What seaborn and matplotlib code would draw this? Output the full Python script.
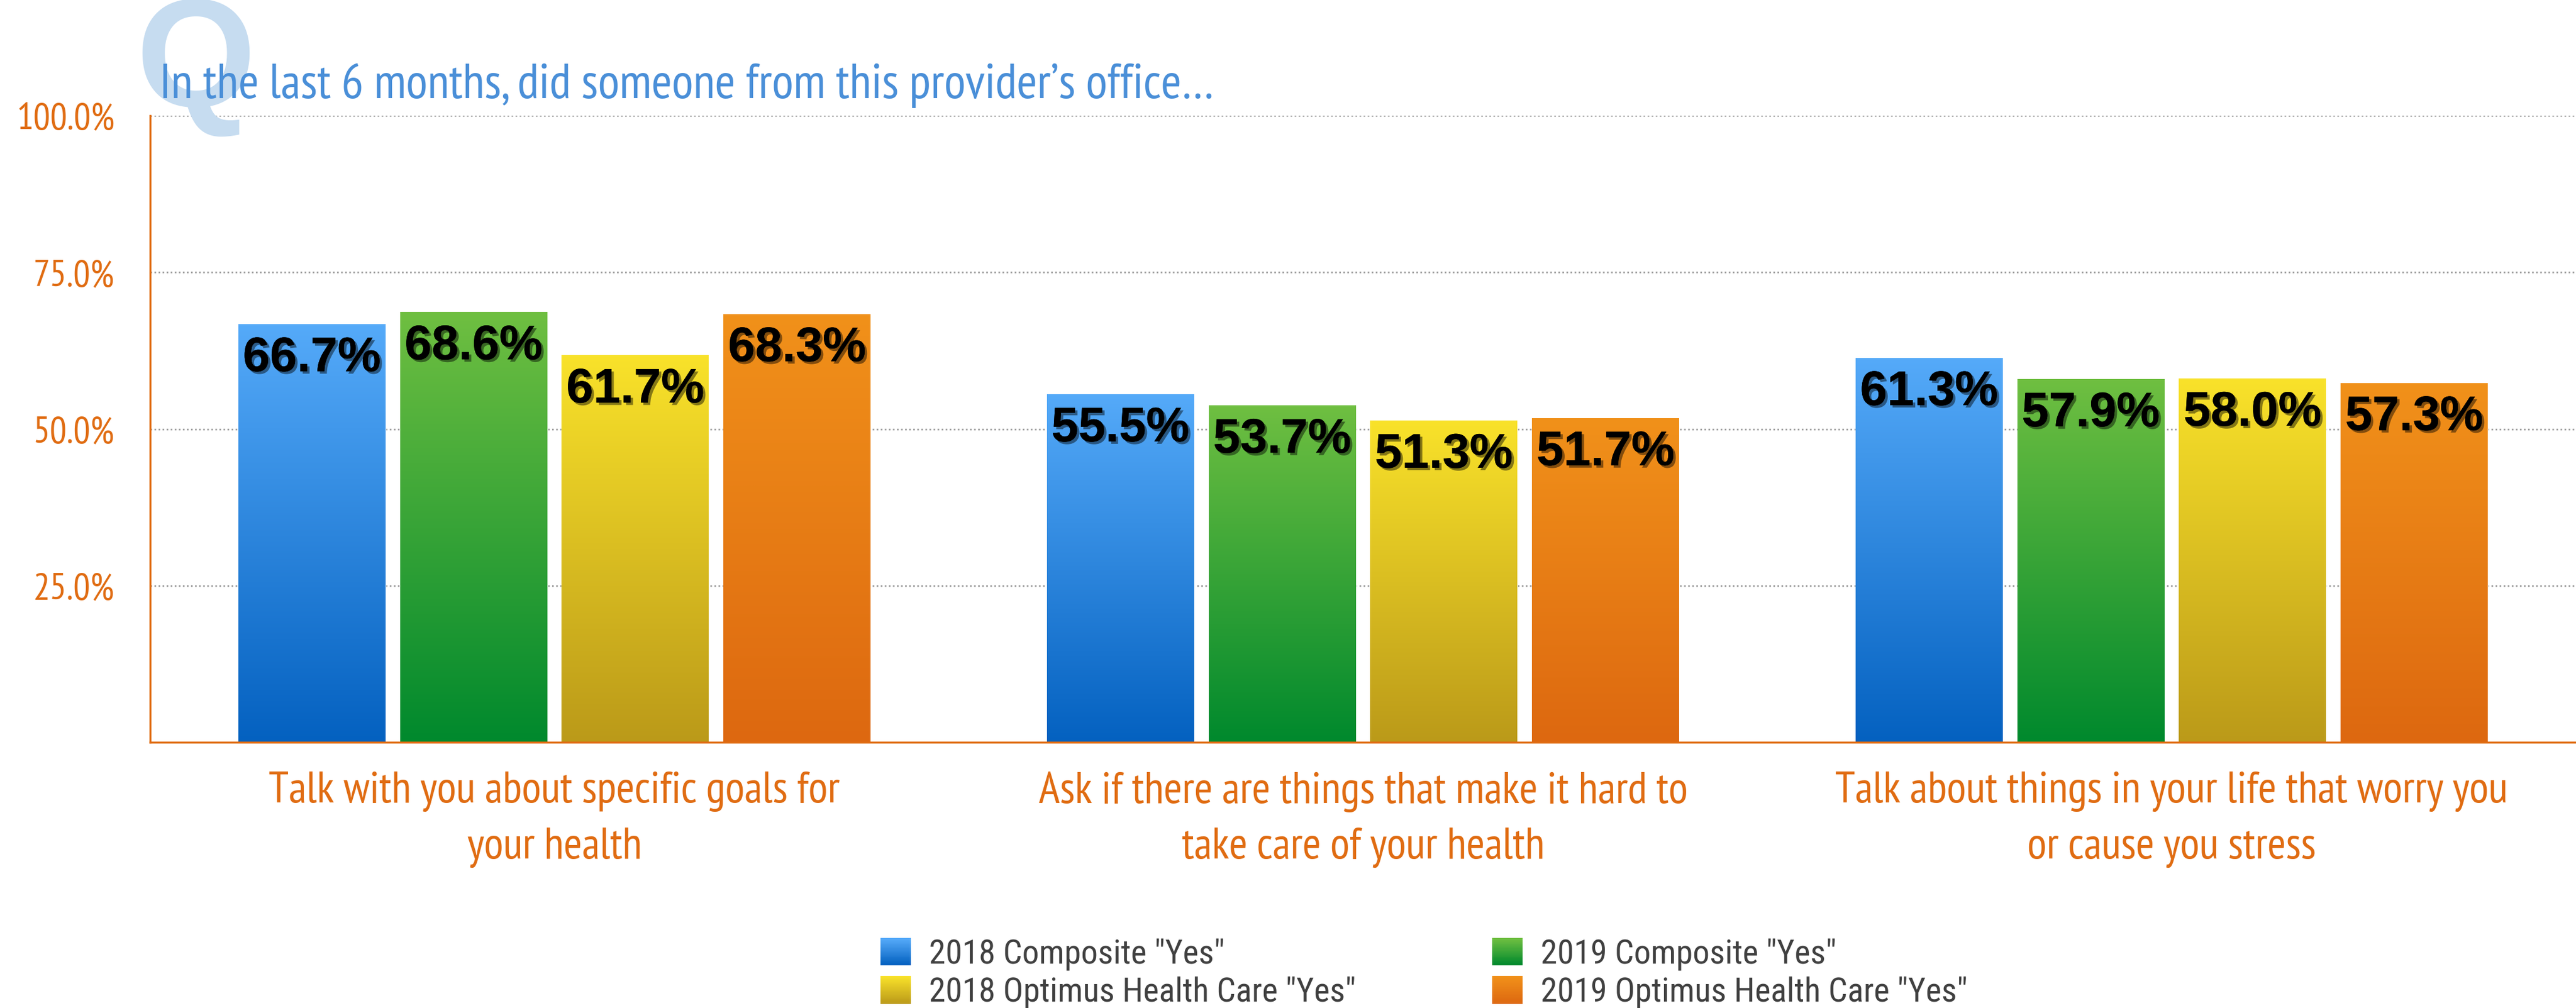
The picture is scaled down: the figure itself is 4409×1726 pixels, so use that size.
import numpy as np
import pandas as pd
import matplotlib
matplotlib.use("Agg")
import matplotlib.pyplot as plt
import matplotlib.patheffects as pe
import seaborn as sns
from matplotlib import font_manager
from matplotlib.colors import LinearSegmentedColormap
from matplotlib.patches import Rectangle
from matplotlib.legend_handler import HandlerBase
from matplotlib.ticker import FuncFormatter

categories = [
    "Talk with you about specific goals for\nyour health",
    "Ask if there are things that make it hard to\ntake care of your health",
    "Talk about things in your life that worry you\nor cause you stress",
]
series = [
    '2018 Composite "Yes"',
    '2019 Composite "Yes"',
    '2018 Optimus Health Care "Yes"',
    '2019 Optimus Health Care "Yes"',
]
composite_2018 = [66.7, 55.5, 61.3]
composite_2019 = [68.6, 53.7, 57.9]
optimus_2018 = [61.7, 51.3, 58.0]
optimus_2019 = [68.3, 51.7, 57.3]
yticks = [25, 50, 75, 100]
title = "In the last 6 months, did someone from this provider\u2019s office\u2026"

top_colors = ["#55aaf9", "#6fbf41", "#f9e22a", "#f1911a"]
bottom_colors = ["#0461c0", "#00892d", "#bb9a19", "#dd6810"]
mid_colors = ["#2d86dc", "#38a437", "#dabe22", "#e77c15"]

ORANGE = "#e06c12"
TITLE_BLUE = "#4a8fd8"

avail = {f.name for f in font_manager.fontManager.ttflist}


def pick(*cands):
    for c in cands:
        if c in avail:
            return [c, "DejaVu Sans"]
    return ["DejaVu Sans"]


# condensed humanist face (Myriad Condensed look) and a narrow grotesque for the legend
COND = pick("PT Sans Narrow", "Liberation Sans Narrow", "Open Sans Condensed", "Fira Sans Condensed",
            "Encode Sans Condensed", "Asap Condensed", "Roboto Condensed", "Archivo Narrow", "Barlow Condensed")
NARROW = pick("Liberation Sans Narrow", "Roboto Condensed", "Archivo Narrow", "Arimo Narrow",
              "PT Sans Narrow", "Fira Sans Condensed", "Barlow Condensed")
SANS = ["Liberation Sans", "DejaVu Sans"]

df = pd.DataFrame({
    "question": categories * 4,
    "series": np.repeat(series, 3),
    "pct": composite_2018 + composite_2019 + optimus_2018 + optimus_2019,
})

sns.set_style("white")
plt.rcParams["font.family"] = COND
W, H = 4409, 1726
fig = plt.figure(figsize=(W / 100, H / 100), dpi=100)
ax = fig.add_axes([257 / W, 1 - 1271 / H, (W - 257) / W, (1271 - 198) / H])
renderer = fig.canvas.get_renderer()


def text_width(s, size, family, weight="normal"):
    t = fig.text(0, 0, s, fontsize=size, family=family, fontweight=weight)
    w = t.get_window_extent(renderer).width
    t.remove()
    return w


def fit(s, target_px, family, weight="normal", base=40):
    return base * target_px / text_width(s, base, family, weight)


sns.barplot(data=df, x="question", y="pct", hue="series", order=categories,
            hue_order=series, palette=mid_colors, saturation=1, width=0.8,
            gap=0.09, errorbar=None, legend=False, ax=ax)

# vertical gradient on every bar
grad = np.linspace(0, 1, 256).reshape(-1, 1)
for i, cont in enumerate(ax.containers):
    cmap = LinearSegmentedColormap.from_list(f"g{i}", [bottom_colors[i], top_colors[i]])
    for bar in cont:
        x0, w, h = bar.get_x(), bar.get_width(), bar.get_height()
        ax.imshow(grad, extent=(x0, x0 + w, 0, h), origin="lower", cmap=cmap,
                  aspect="auto", zorder=2, interpolation="bicubic")
        ax.annotate(f"{h:.1f}%", (x0 + w / 2, h), xytext=(0, -42),
                    textcoords="offset points", ha="center", va="center",
                    fontsize=60, fontweight="bold", family=SANS, color="black",
                    zorder=5,
                    path_effects=[pe.withSimplePatchShadow(offset=(3, -3), shadow_rgbFace="black", alpha=0.45),
                                  pe.Normal()])

ax.set_xlim(-0.5, 2.5)
ax.set_ylim(0, 100)
ax.set_yticks(yticks)
ax.yaxis.set_major_formatter(FuncFormatter(lambda v, _: f"{v:.1f}%"))
ax.set_xticks(range(len(categories)))
ax.set_xticklabels(categories, linespacing=1.5)
ax.set_xlabel("")
ax.set_ylabel("")

ax.set_axisbelow(True)
ax.yaxis.grid(True, linestyle=(0, (1, 1.5)), color="#9a9a9a", linewidth=2)
ax.xaxis.grid(False)
for s in ["top", "right"]:
    ax.spines[s].set_visible(False)
for s in ["left", "bottom"]:
    ax.spines[s].set_color(ORANGE)
    ax.spines[s].set_linewidth(2.5)
    ax.spines[s].set_zorder(3)

ytick_size = fit("100.0%", 168, COND)
xtick_size = fit(categories[1].split("\n")[0], 1110, COND)
ax.tick_params(axis="both", length=0, labelcolor=ORANGE)
ax.tick_params(axis="y", pad=44, labelsize=ytick_size)
ax.tick_params(axis="x", pad=36, labelsize=xtick_size)

# big Q watermark behind the title
fig.text(232 / W, 1 - 182 / H, "Q", ha="left", va="baseline", fontsize=190,
         fontweight="bold", family=SANS, color="#c6dcf0", zorder=0)
fig.text(273 / W, 1 - 168 / H, title, ha="left", va="baseline",
         fontsize=fit(title, 1800, COND), color=TITLE_BLUE, zorder=4)


class GradientHandler(HandlerBase):
    def __init__(self, top, bottom, n=24):
        super().__init__()
        self.cmap = LinearSegmentedColormap.from_list("lg", [bottom, top])
        self.n = n

    def create_artists(self, legend, orig_handle, xdescent, ydescent, width, height, fontsize, trans):
        arts = []
        for k in range(self.n):
            arts.append(Rectangle((-xdescent, -ydescent + height * k / self.n), width,
                                  height / self.n * 1.05, facecolor=self.cmap(k / (self.n - 1)),
                                  edgecolor="none", transform=trans))
        return arts


leg_size = fit(series[0], 506, NARROW)
fs_px = leg_size * 100 / 72
longest = max(text_width(s, leg_size, NARROW) for s in series[::2])
col_gap = 2554 - (1590 + longest)

handles = [Rectangle((0, 0), 1, 1) for _ in series]
hmap = {h: GradientHandler(top_colors[i], bottom_colors[i]) for i, h in enumerate(handles)}
order = [0, 2, 1, 3]
leg = fig.legend([handles[i] for i in order], [series[i] for i in order], handler_map=hmap,
                 ncol=2, loc="upper left", bbox_to_anchor=(1507 / W, 1 - 1606 / H),
                 frameon=False, borderpad=0, borderaxespad=0, prop={"family": NARROW, "size": leg_size},
                 handlelength=52 / fs_px, handleheight=51 / fs_px,
                 handletextpad=31 / fs_px, labelspacing=10 / fs_px,
                 columnspacing=max(col_gap, 20) / fs_px)
for t in leg.get_texts():
    t.set_color("#404040")

fig.savefig("out.png", dpi=100, facecolor="white")
